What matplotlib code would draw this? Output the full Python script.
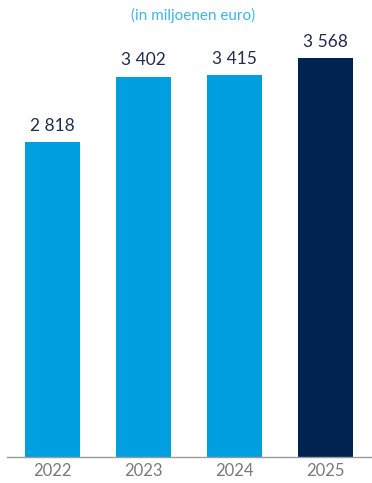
import matplotlib
matplotlib.use("Agg")
import matplotlib.pyplot as plt

years = ["2022", "2023", "2024", "2025"]
values = [2818, 3402, 3415, 3568]
labels = ["2 818", "3 402", "3 415", "3 568"]
colors = ["#009FE0", "#009FE0", "#009FE0", "#00234F"]
subtitle = "(in miljoenen euro)"

plt.rcParams['font.family'] = ['Lato', 'DejaVu Sans']

W, H = 372, 483
fig = plt.figure(figsize=(W/100, H/100), dpi=100)
ax = fig.add_axes([7/W, 26/H, 1 - 7/W, 457/H])

x = list(range(len(years)))
ax.bar(x, values, width=55/91, color=colors, zorder=2)
ax.set_xlim(-0.5, (372 - 52.5)/91)
ax.set_ylim(0, 3568 * 457/399)

for xi, v, lab in zip(x, values, labels):
    ax.annotate(lab, (xi, v), xytext=(0, 6), textcoords="offset points",
                ha="center", va="bottom", fontsize=12.5, color="#1F2D4E")

for s in ["top", "right", "left"]:
    ax.spines[s].set_visible(False)
ax.spines["bottom"].set_color("#9A9A9A")
ax.spines["bottom"].set_linewidth(1.0)
ax.set_yticks([])
ax.set_xticks(x)
ax.set_xticklabels(years, fontsize=12, color="#7A7A7A")
ax.tick_params(axis="x", length=0, pad=4)

fig.text(193/W, 1 - 15/H, subtitle, ha="center", va="center",
         fontsize=11, color="#3DB5E6")

fig.savefig("out.png", dpi=100)
